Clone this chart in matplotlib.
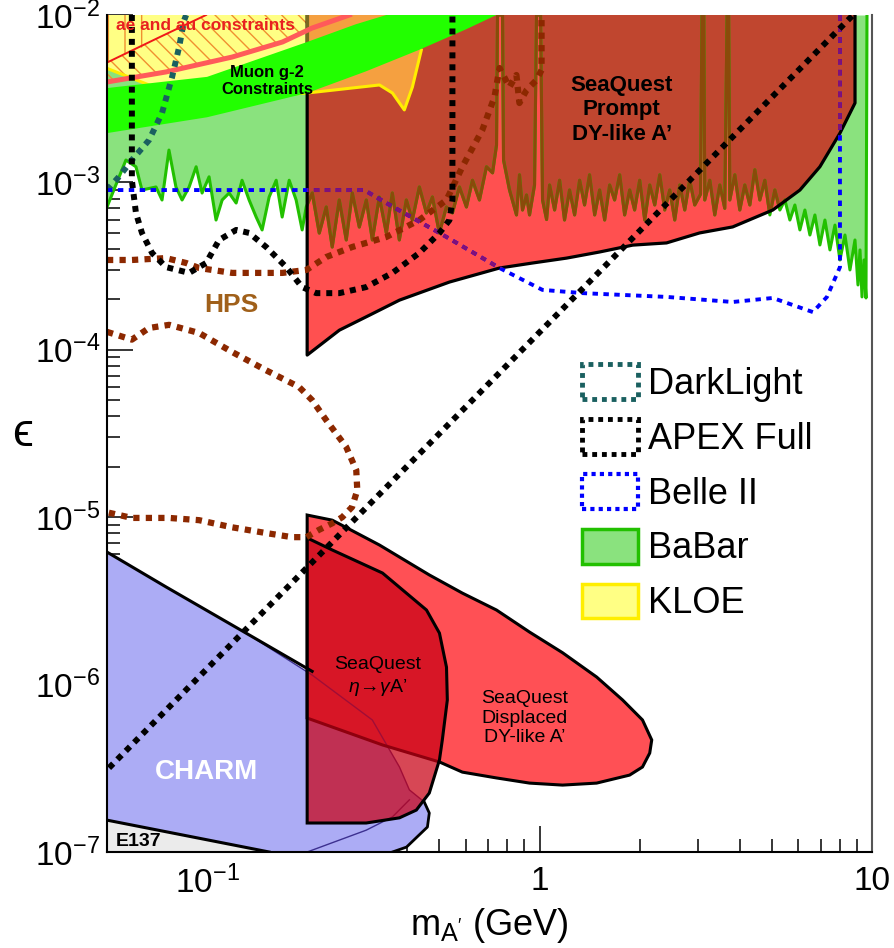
import numpy as np
import matplotlib.pyplot as plt
from matplotlib.patches import Polygon, Patch

plt.rcParams['font.family'] = ['Liberation Sans', 'DejaVu Sans']
plt.rcParams['mathtext.fontset'] = 'custom'
plt.rcParams['mathtext.rm'] = 'Liberation Sans'
plt.rcParams['mathtext.it'] = 'Liberation Sans:italic'
plt.rcParams['mathtext.bf'] = 'Liberation Sans:bold'
plt.rcParams['hatch.linewidth'] = 1.0

# ---------------- data (mass in GeV, epsilon) ----------------
# SeaQuest prompt DY-like A' region (left edge, lower edge, right edge)
sq_prompt_m = [0.2, 0.2, 0.25, 0.308, 0.379, 0.536, 0.758, 0.953, 1.206, 1.516, 1.906,
               2.41, 3.03, 3.81, 5.03, 6.07, 6.97, 8.01, 8.89, 8.89]
sq_prompt_eps = [1e-2, 9.3e-5, 1.31e-4, 1.61e-4, 1.98e-4, 2.54e-4, 3.08e-4, 3.3e-4, 3.53e-4,
                 3.84e-4, 4.22e-4, 4.35e-4, 4.99e-4, 5.42e-4, 6.84e-4, 9.0e-4, 1.24e-3,
                 1.97e-3, 2.98e-3, 1e-2]

# BaBar limit (jagged)
babar_m = [0.0500, 0.0570, 0.0611, 0.0637, 0.0702, 0.0732, 0.0768, 0.0806, 0.0841, 0.0883,
           0.0927, 0.0966, 0.1014, 0.1064, 0.1110, 0.1165, 0.1223, 0.1274, 0.1338, 0.1405,
           0.1464, 0.1537, 0.1614, 0.1682, 0.1766, 0.1853, 0.1932, 0.1987,
           0.2072, 0.2175, 0.2283, 0.2379, 0.2498, 0.2622, 0.2734, 0.2870, 0.3013, 0.3141,
           0.3297, 0.3461, 0.3607, 0.3787, 0.3975, 0.4144, 0.4350, 0.4567, 0.4762, 0.4995,
           0.5246, 0.5470, 0.5741, 0.6027, 0.6284, 0.6596, 0.6925, 0.7222, 0.7424, 0.7475,
           0.7739, 0.7793, 0.8122, 0.8525, 0.8705, 0.8888, 0.9138, 0.9330, 0.9659, 0.9794,
           1.007, 1.021, 1.050, 1.072, 1.110, 1.149, 1.189, 1.231, 1.275, 1.320, 1.366,
           1.414, 1.465, 1.516, 1.570, 1.625, 1.682, 1.742, 1.803, 1.867, 1.932, 2.001,
           2.072, 2.145, 2.221, 2.299, 2.380, 2.464, 2.551, 2.641, 2.734, 2.830, 2.930,
           3.05, 3.08, 3.12, 3.140, 3.252, 3.366, 3.485, 3.607, 3.665, 3.705, 3.735, 3.867,
           4.003, 4.144, 4.291, 4.442, 4.599, 4.761, 4.929, 5.103, 5.283, 5.470, 5.662,
           5.862, 6.069, 6.283, 6.505, 6.734, 6.972, 7.218, 7.473, 7.737, 8.009, 8.292,
           8.584, 8.888, 9.075, 9.202, 9.331, 9.461, 9.592, 9.659]
babar_eps = [7.13e-4, 1.36e-3, 1.24e-3, 9.01e-4, 9.39e-4, 7.85e-4, 1.56e-3, 9.39e-4, 7.85e-4, 9.39e-4,
             1.24e-3, 8.64e-4, 1.08e-3, 5.96e-4, 7.85e-4, 8.64e-4, 7.53e-4, 1.03e-3, 7.85e-4, 6.21e-4,
             5.20e-4, 8.18e-4, 1.03e-3, 6.21e-4, 1.03e-3, 7.85e-4, 5.20e-4, 7.13e-4,
             8.64e-4, 4.98e-4, 7.13e-4, 4.11e-4, 7.85e-4, 4.53e-4, 8.64e-4, 5.41e-4, 7.85e-4, 4.53e-4,
             8.18e-4, 4.98e-4, 8.64e-4, 4.53e-4, 7.85e-4, 5.96e-4, 9.39e-4, 6.57e-4, 8.18e-4, 4.98e-4,
             7.13e-4, 6.57e-4, 9.39e-4, 7.13e-4, 1.03e-3, 7.85e-4, 1.24e-3, 1.14e-3, 1.67e-3, 1e-2,
             1e-2, 1.36e-3, 9.01e-4, 6.39e-4, 1.11e-3, 6.84e-4, 8.41e-4, 6.39e-4, 9.65e-4, 1e-2,
             1e-2, 7.85e-4, 6.0e-4, 9.65e-4, 6.84e-4, 1.03e-3, 5.96e-4, 9.01e-4, 6.39e-4, 1.03e-3, 7.33e-4,
             1.11e-3, 6.39e-4, 9.01e-4, 5.96e-4, 9.65e-4, 7.85e-4, 1.11e-3, 6.39e-4, 9.01e-4, 6.84e-4, 1.03e-3,
             5.96e-4, 9.65e-4, 7.33e-4, 1.11e-3, 6.84e-4, 9.01e-4, 5.96e-4, 9.65e-4, 6.84e-4, 1.03e-3, 7.33e-4,
             8.5e-4, 1e-2, 1e-2, 7.85e-4, 1.03e-3, 6.39e-4, 9.65e-4, 7.0e-4, 1e-2, 1e-2, 7.85e-4, 1.11e-3,
             6.84e-4, 9.65e-4, 7.33e-4, 1.19e-3, 7.85e-4, 1.03e-3, 6.39e-4, 9.01e-4, 6.84e-4, 7.85e-4, 5.96e-4,
             7.33e-4, 5.20e-4, 6.84e-4, 4.85e-4, 6.39e-4, 4.23e-4, 5.96e-4, 3.95e-4, 5.56e-4, 3.44e-4, 4.85e-4,
             3.0e-4, 4.53e-4, 2.44e-4, 3.95e-4, 2.07e-4, 3.44e-4, 2.04e-4, 1e-2]

# KLOE region (lower boundary, closed along the top)
kloe_m = [0.05, 0.05, 0.0732, 0.1087, 0.165, 0.2, 0.33, 0.361, 0.392, 0.4145, 0.441, 0.483]
kloe_eps = [1e-2, 4.8e-3, 3.56e-3, 3.33e-3, 3.33e-3, 3.42e-3, 3.82e-3, 3.42e-3, 2.71e-3,
            3.71e-3, 6.18e-3, 1e-2]

# muon g-2 favoured band
g2_top_m = [0.05, 0.1, 0.2, 0.28, 0.346, 0.4]
g2_top_eps = [3.66e-3, 4.27e-3, 6.9e-3, 8.8e-3, 1.0e-2, 1.15e-2]
g2_bot_m = [0.05, 0.1, 0.2, 0.3, 0.435, 0.6, 0.742, 0.8]
g2_bot_eps = [1.97e-3, 2.45e-3, 3.42e-3, 4.6e-3, 6.2e-3, 8.2e-3, 1.0e-2, 1.1e-2]

# a_e / a_mu constraint lines
amu_m = [0.05, 0.0753, 0.119, 0.1686, 0.207, 0.268]
amu_eps = [3.98e-3, 4.57e-3, 5.61e-3, 6.9e-3, 8.36e-3, 1e-2]
ae_m = [0.05, 0.0702, 0.0993]
ae_eps = [5.2e-3, 7.2e-3, 1e-2]

# DarkLight
dl_m = [0.05, 0.0543, 0.0594, 0.0669, 0.0732, 0.0785, 0.0824, 0.0853, 0.0865]
dl_eps = [9.0e-4, 1.08e-3, 1.36e-3, 1.79e-3, 2.6e-3, 4.27e-3, 6.44e-3, 9.3e-3, 1e-2]

# APEX full
apex_m = [0.0594, 0.0594, 0.0611, 0.0637, 0.0683, 0.0752, 0.0883, 0.0993, 0.1087, 0.1223,
          0.1338, 0.1506, 0.173, 0.193, 0.213, 0.25, 0.301, 0.361, 0.435, 0.5, 0.536,
          0.547, 0.547]
apex_eps = [1e-2, 1.03e-3, 6.56e-4, 4.99e-4, 3.79e-4, 3.12e-4, 2.88e-4, 3.3e-4, 4.53e-4, 5.2e-4,
            4.99e-4, 4.11e-4, 3.12e-4, 2.37e-4, 2.18e-4, 2.18e-4, 2.37e-4, 2.88e-4, 3.79e-4,
            4.99e-4, 5.96e-4, 7.85e-4, 1e-2]
diag_m = [0.0507, 8.77]
diag_eps = [3.18e-7, 1e-2]

# Belle II
belle_m = [0.05, 0.297, 0.346, 0.525, 0.758, 1.02, 1.35, 2.41, 3.81, 5.03, 6.64, 7.32, 8.01, 8.01]
belle_eps = [9.0e-4, 9.0e-4, 7.53e-4, 4.72e-4, 3.08e-4, 2.28e-4, 2.18e-4, 2.07e-4, 1.93e-4,
             2.04e-4, 1.68e-4, 2.07e-4, 3.12e-4, 1e-2]

# HPS (two contours)
hps_up_m = [0.05, 0.0594, 0.0752, 0.0865, 0.0946, 0.119, 0.1686, 0.199, 0.228, 0.273, 0.346,
            0.435, 0.525, 0.586, 0.673, 0.732, 0.758, 0.812, 0.852, 0.870, 0.914, 0.979,
            1.014, 1.014]
hps_up_eps = [3.44e-4, 3.44e-4, 3.53e-4, 3.3e-4, 3.08e-4, 2.88e-4, 2.88e-4, 3.0e-4, 3.58e-4,
              4.11e-4, 4.72e-4, 5.96e-4, 7.85e-4, 1.24e-3, 2.06e-3, 3.24e-3, 4.82e-3, 3.71e-3,
              4.38e-3, 2.98e-3, 3.56e-3, 4.09e-3, 4.69e-3, 1e-2]
hps_lo_m = [0.05, 0.0594, 0.0669, 0.0769, 0.0946, 0.119, 0.150, 0.189, 0.207, 0.228, 0.262,
            0.281, 0.283, 0.273, 0.255, 0.238, 0.217, 0.199, 0.180, 0.150, 0.119, 0.0946,
            0.0769, 0.0594, 0.05]
hps_lo_eps = [1.28e-4, 1.15e-4, 1.35e-4, 1.41e-4, 1.26e-4, 9.7e-5, 7.57e-5, 6.0e-5, 5.0e-5,
              3.81e-5, 2.63e-5, 1.91e-5, 1.45e-5, 1.15e-5, 1.0e-5, 9.2e-6, 8.4e-6, 7.6e-6,
              7.6e-6, 8.05e-6, 8.7e-6, 9.6e-6, 9.9e-6, 9.9e-6, 1.07e-5]

# CHARM and E137
charm_m = [0.05, 0.0753, 0.131, 0.207, 0.314, 0.379, 0.406, 0.450, 0.466, 0.460, 0.398,
           0.361, 0.1537, 0.05]
charm_eps = [6.19e-6, 3.83e-6, 2.03e-6, 1.14e-6, 6.15e-7, 3.22e-7, 2.35e-7, 1.99e-7, 1.71e-7,
             1.41e-7, 1.07e-7, 1e-7, 1e-7, 1.55e-7]
e137_m = [0.05, 0.05, 0.1537]
e137_eps = [1e-7, 1.55e-7, 1e-7]

# SeaQuest displaced DY-like A'
sq_disp_m = [0.2, 0.238, 0.33, 0.466, 0.586, 0.742, 0.933, 1.173, 1.485, 1.778, 2.04, 2.175,
             2.145, 2.04, 1.866, 1.485, 1.173, 0.933, 0.742, 0.586, 0.5, 0.337, 0.2]
sq_disp_eps = [1.03e-5, 9.6e-6, 6.82e-6, 4.52e-6, 3.52e-6, 2.79e-6, 2.06e-6, 1.55e-6, 1.11e-6,
               8.09e-7, 6.15e-7, 4.67e-7, 3.9e-7, 3.22e-7, 2.88e-7, 2.58e-7, 2.51e-7, 2.58e-7,
               2.77e-7, 3.0e-7, 3.45e-7, 4.36e-7, 6.31e-7]

# SeaQuest eta -> gamma A'
sq_eta_m = [0.2, 0.238, 0.337, 0.457, 0.5, 0.525, 0.528, 0.51, 0.5, 0.466, 0.426, 0.379,
            0.301, 0.2]
sq_eta_eps = [7.52e-6, 6.37e-6, 4.64e-6, 2.79e-6, 2.03e-6, 1.27e-6, 8.09e-7, 4.67e-7, 3.55e-7,
              2.25e-7, 1.78e-7, 1.6e-7, 1.49e-7, 1.49e-7]

y_ticks = [1e-7, 1e-6, 1e-5, 1e-4, 1e-3, 1e-2]
y_ticklabels = [r'$10^{-7}$', r'$10^{-6}$', r'$10^{-5}$', r'$10^{-4}$', r'$10^{-3}$', r'$10^{-2}$']
x_ticks = [0.1, 1, 10]
x_ticklabels = [r'$10^{-1}$', '1', '10']

# colours
c_red = '#ff5050'
c_darkred = '#c0462f'
c_babar = '#8ae27e'
c_babar_line = '#22c000'
c_brown_line = '#8a4a0a'
c_g2 = '#22ff00'
c_kloe = '#ffff84'
c_orange = '#f5a040'
c_charm = '#acacf5'

fig = plt.figure(figsize=(8.94, 9.48), dpi=100)
ax = fig.add_axes([107 / 894, 96 / 948, 765 / 894, 837 / 948])
ax.set_xscale('log')
ax.set_yscale('log')
ax.set_xlim(0.05, 10)
ax.set_ylim(1e-7, 1e-2)
ax.set_axisbelow(True)

# ---- upper part ----
ax.fill_between(babar_m, babar_eps, 1e-2, color=c_babar, lw=0, zorder=1.0)
ax.fill(kloe_m, kloe_eps, color=c_kloe, lw=0, zorder=1.1)

hatch_m = amu_m + [0.0993] + ae_m[::-1]
hatch_eps = amu_eps + [1e-2] + ae_eps[::-1]
ax.fill(hatch_m, hatch_eps, facecolor='none', edgecolor='#f09030', hatch='\\\\', lw=0, zorder=1.2)
ax.fill([0.05, 0.066, 0.066, 0.05], [5.2e-3, 6.6e-3, 1e-2, 1e-2], facecolor='none',
        edgecolor='#f09030', hatch='|', lw=0, zorder=1.2)

sq_poly = Polygon(np.column_stack([sq_prompt_m, sq_prompt_eps]), closed=True,
                  facecolor=c_red, edgecolor='none', zorder=1.3)
ax.add_patch(sq_poly)
dark = ax.fill_between(babar_m, babar_eps, 1e-2, color=c_darkred, lw=0, zorder=1.4)
dark.set_clip_path(sq_poly)
orange = ax.fill(kloe_m, kloe_eps, color=c_orange, lw=0, zorder=1.5)[0]
orange.set_clip_path(sq_poly)

ax.plot(babar_m, babar_eps, color=c_babar_line, lw=2.2, zorder=1.6)
bl = ax.plot(babar_m, babar_eps, color=c_brown_line, lw=2.2, zorder=1.61)[0]
bl.set_clip_path(sq_poly)

ax.plot(kloe_m[1:-1], kloe_eps[1:-1], color='#ffee00', lw=2.2, zorder=1.7)
ax.plot(sq_prompt_m, sq_prompt_eps, color='black', lw=2.3, zorder=1.8)
ax.plot([0.2, 0.2], [7.0e-3, 1e-2], color='#7a6a20', lw=2.3, zorder=1.81)

g2_m = g2_top_m + g2_bot_m[::-1]
g2_eps = g2_top_eps + g2_bot_eps[::-1]
ax.fill(g2_m, g2_eps, color=c_g2, lw=0, zorder=1.9)

ax.plot(amu_m, amu_eps, color='#ff5a5a', lw=3.6, zorder=2.0)
ax.plot(ae_m, ae_eps, color='#f01818', lw=1.4, zorder=2.0)

# ---- lower part ----
ax.fill(e137_m, e137_eps, color='#ebebeb', lw=0, zorder=1.0)
ax.fill(charm_m, charm_eps, color=c_charm, lw=0, zorder=1.1)
ax.fill(sq_disp_m, sq_disp_eps, color='#ff5055', lw=0, zorder=1.2)
ax.plot(charm_m[2:9], charm_eps[2:9], color='#3c3090', lw=1.0, zorder=1.3)
ax.plot([0.2, 0.301, 0.361, 0.406], [1e-7, 1.35e-7, 1.62e-7, 2.05e-7], color='#3c3090',
        lw=1.0, zorder=1.3)
ax.fill(sq_disp_m + [0.2], sq_disp_eps + [1.03e-5], facecolor='none', edgecolor='black',
        lw=2.2, zorder=1.4)
ax.fill(sq_eta_m, sq_eta_eps, facecolor='#c80014', alpha=0.72, lw=0, zorder=1.5)
ax.fill(sq_eta_m, sq_eta_eps, facecolor='none', edgecolor='black', lw=2.2, zorder=1.6)
ax.plot(charm_m[:4], [6.19e-6, 3.83e-6, 2.03e-6, 1.2e-6], color='black', lw=2.2, zorder=1.7)
ax.plot(charm_m[7:12], charm_eps[7:12], color='black', lw=2.0, zorder=1.7)
ax.plot(e137_m[1:], e137_eps[1:], color='black', lw=2.2, zorder=1.7)

# ---- dotted projections ----
dots = (0, (1, 1))
ax.plot(hps_up_m, hps_up_eps, color='#8c2800', lw=4.5, ls=dots, zorder=3)
ax.plot(hps_lo_m, hps_lo_eps, color='#8c2800', lw=4.5, ls=dots, zorder=3)
ax.plot(dl_m, dl_eps, color='#1a6060', lw=4.3, ls=dots, zorder=3.1)
ax.plot(belle_m, belle_eps, color='#0000ff', lw=2.8, ls=(0, (1.4, 1.4)), zorder=3.2)
bp = ax.plot(belle_m, belle_eps, color='#80107a', lw=2.8, ls=(0, (1.4, 1.4)), zorder=3.21)[0]
bp.set_clip_path(sq_poly)
ax.plot(apex_m, apex_eps, color='black', lw=4.3, ls=dots, zorder=3.3)
ax.plot(diag_m, diag_eps, color='black', lw=4.3, ls=dots, zorder=3.3)

# ---- labels ----
ax.text(0.099, 8.7e-3, 'ae and au constraints', color='#e82020', fontsize=12.5,
        fontweight='bold', ha='center', va='center', zorder=4)
ax.text(0.1518, 4.03e-3, 'Muon g-2\nConstraints', color='black', fontsize=12,
        fontweight='bold', ha='center', va='center', linespacing=1.1, zorder=4)
ax.text(1.766, 2.71e-3, 'SeaQuest\nPrompt\nDY-like A\u2019', color='black', fontsize=16,
        fontweight='bold', ha='center', va='center', zorder=4)
ax.text(0.118, 1.85e-4, 'HPS', color='#a0601a', fontsize=19, fontweight='bold',
        ha='center', va='center', zorder=4)
ax.text(0.325, 1.11e-6, 'SeaQuest\n' + r'$\eta\!\rightarrow\!\gamma$' + 'A\u2019', color='black',
        fontsize=14, ha='center', va='center', linespacing=1.3, zorder=4)
ax.text(0.901, 6.3e-7, 'SeaQuest\nDisplaced\nDY-like A\u2019', color='black', fontsize=14,
        ha='center', va='center', zorder=4)
ax.text(0.0993, 3.0e-7, 'CHARM', color='white', fontsize=20, fontweight='bold',
        ha='center', va='center', zorder=4)
ax.text(0.0624, 1.15e-7, 'E137', color='black', fontsize=14, fontweight='bold',
        ha='center', va='center', zorder=4)

handles = [
    Patch(facecolor='white', edgecolor='#1a6060', linestyle=(0, (1, 1)), linewidth=3.5, label='DarkLight'),
    Patch(facecolor='white', edgecolor='black', linestyle=(0, (1, 1)), linewidth=3.5, label='APEX Full'),
    Patch(facecolor='white', edgecolor='#0000ff', linestyle=(0, (1, 1)), linewidth=3.0, label='Belle II'),
    Patch(facecolor=c_babar, edgecolor=c_babar_line, linewidth=2.5, label='BaBar'),
    Patch(facecolor=c_kloe, edgecolor='#ffee00', linewidth=2.5, label='KLOE'),
]
leg = ax.legend(handles=handles, loc='upper left', bbox_to_anchor=(0.621, 0.583),
                frameon=False, fontsize=26, handlelength=1.55, handleheight=1.1,
                handletextpad=0.27, labelspacing=0.48, borderpad=0, borderaxespad=0)
leg.set_zorder(5)

ax.set_yticks(y_ticks)
ax.set_yticklabels(y_ticklabels)
ax.set_xticks(x_ticks)
ax.set_xticklabels(x_ticklabels)
ax.xaxis.set_minor_formatter(plt.NullFormatter())
ax.yaxis.set_minor_formatter(plt.NullFormatter())
ax.tick_params(which='both', direction='in', top=False, right=False, width=1.1, labelsize=24)
ax.tick_params(which='major', length=19)
ax.tick_params(which='minor', length=9.5)
ax.tick_params(axis='y', pad=5)
ax.tick_params(axis='x', pad=10)

ax.set_xlabel(r"m$_{\rm A'}$ (GeV)", fontsize=26, labelpad=4)
ax.set_ylabel('\u03f5', fontsize=34, rotation=0, ha='center', va='center')
ax.yaxis.set_label_coords(-0.111, 0.5)

ax.spines['top'].set_visible(False)
for s in ['left', 'bottom', 'right']:
    ax.spines[s].set_linewidth(1.5)
    ax.spines[s].set_zorder(6)
ax.spines['right'].set_color('#555555')

fig.savefig('out.png', dpi=100)
